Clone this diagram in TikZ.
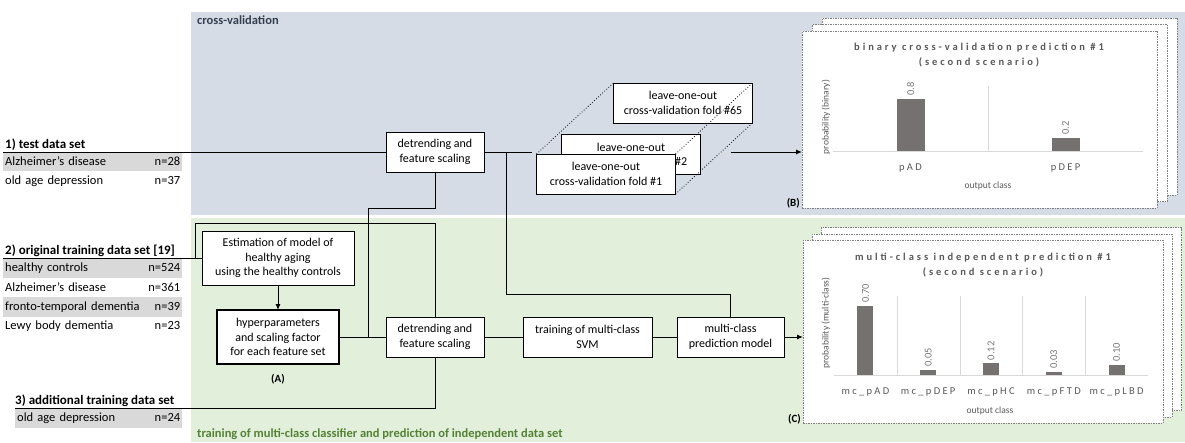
\documentclass[tikz,border=0pt]{standalone}
\usepackage{fontspec}
\setmainfont{Carlito}
\usetikzlibrary{positioning,arrows.meta,backgrounds}
\definecolor{cvblue}{HTML}{D6DCE5}
\definecolor{trgreen}{HTML}{E2EFDA}
\definecolor{cvtext}{HTML}{333F50}
\definecolor{trtext}{HTML}{548235}
\definecolor{rowgray}{HTML}{D9D9D9}
\definecolor{chartgray}{HTML}{595959}
\definecolor{bargray}{HTML}{767171}
\definecolor{gridgray}{HTML}{D9D9D9}
\newcommand{\spacedfont}{\addfontfeature{LetterSpace=28}}
\newcommand{\catfont}{\addfontfeature{LetterSpace=22}}

\begin{document}
\begin{tikzpicture}[x=1pt,y=-1pt,
    box/.style={draw,fill=white,line width=1pt,align=center,inner sep=1pt,outer sep=0pt,font=\fontsize{12}{14.6}\selectfont},
    foldbox/.style={box,minimum width=139pt,minimum height=40pt},
    listhead/.style={anchor=base west,inner sep=0pt,font=\fontsize{13}{15}\selectfont\bfseries},
    listrow/.style={anchor=west,align=left,text width=175pt,inner xsep=2pt,inner ysep=0pt,minimum height=19.5pt,font=\fontsize{12.5}{14}\selectfont},
    panellabel/.style={anchor=west,inner sep=0pt,font=\fontsize{12.5}{14}\selectfont\bfseries},
    chartframe/.style={draw=gray,fill=white,dash pattern=on 1.5pt off 1pt,line width=0.6pt,outer sep=0pt},
    charttitle/.style={align=center,text=chartgray,font=\fontsize{10.5}{15}\selectfont\bfseries\spacedfont},
    catlabel/.style={text=chartgray,font=\fontsize{10.5}{12}\selectfont\catfont},
    vallabel/.style={rotate=90,anchor=west,inner sep=1pt,text=chartgray!80,font=\fontsize{10.5}{12}\selectfont},
    axislabel/.style={text=chartgray,font=\fontsize{9.5}{11}\selectfont},
    gridline/.style={draw=gridgray,line width=0.8pt},
    link/.style={line width=1pt},
    arr/.style={link,-{Latex[length=6pt,width=5pt]}},
    tag/.style={inner sep=0pt,font=\fontsize{11}{12}\selectfont\bfseries}]

\useasboundingbox (0,0) rectangle (1185,442);
\begin{scope}[on background layer]
  \fill[cvblue] (191,12) rectangle (1185,215);
  \fill[trgreen] (191,218) rectangle (1185,442);
\end{scope}
\node[panellabel,text=cvtext] (cvlabel) at (197,20) {cross-validation};
\node[panellabel,text=trtext] (trlabel) at (197,434) {training of multi-class classifier and prediction of independent data set};

% data sets
\node[listhead] (testhead) at (5,148) {1) test data set};
\node[listrow,fill=rowgray] (test1) at (3,161.5) {Alzheimer’s disease\hfill n=28};
\node[listrow] (test2) at (3,181) {old age depression\hfill n=37};
\node[listhead] (trainhead) at (5,254) {2) original training data set [19]};
\node[listrow,fill=rowgray] (train1) at (3,268) {healthy controls\hfill n=524};
\node[listrow] (train2) at (3,287.5) {Alzheimer’s disease\hfill n=361};
\node[listrow,fill=rowgray] (train3) at (3,307) {fronto-temporal dementia\hfill n=39};
\node[listrow] (train4) at (3,326.5) {Lewy body dementia\hfill n=23};
\node[listhead] (addhead) at (15,404) {3) additional training data set};
\node[listrow,fill=rowgray,text width=163pt] (add1) at (15,418.5) {old age depression\hfill n=24};

\coordinate (testin) at (3,152);
\coordinate (trainin) at (3,258);
\coordinate (addin) at (15,408);
\coordinate (trbranch) at (195,258);
\coordinate (hypsplit) at (368,337);
\coordinate (cvsplit) at (506,152);
\coordinate (cvin) at (532,152);
\coordinate (cvout) at (731,152);

% processing steps
\node[box,minimum width=98pt,minimum height=40pt] (dtcv) at (435,152) {detrending and\\feature scaling};
\node[box,minimum width=152pt,minimum height=54pt] (est) at (278,258) {Estimation of model of\\healthy aging\\using the healthy controls};
\node[box,line width=2.5pt,minimum width=122pt,minimum height=54pt] (hyp) at (278,337) {hyperparameters\\and scaling factor\\for each feature set};
\node[tag] (taga) at (278,379) {(A)};
\node[box,minimum width=98pt,minimum height=40pt] (dttr) at (435,337) {detrending and\\feature scaling};
\node[box,minimum width=129pt,minimum height=40pt] (svm) at (587.5,337) {training of multi-class\\SVM};
\node[box,minimum width=107pt,minimum height=40pt] (pred) at (730.5,337) {multi-class\\prediction model};

% folds
\node[foldbox] (f1) at (606,174) {leave-one-out\\cross-validation fold \#1};
\begin{scope}[on background layer]
  \node[foldbox] (f65) at (683,103) {leave-one-out\\cross-validation fold \#65};
  \node[foldbox] (f2) at (631,154.5) {leave-one-out\\cross-validation fold \#2};
  \draw[dotted,line width=0.8pt] (f1.north west) -- (f65.north west) (f1.north east) -- (f65.north east) (f1.south east) -- (f65.south east);
\end{scope}

% chart B
\node[chartframe,minimum width=355pt,minimum height=177pt] (chartB3) at (999.5,106.5) {};
\node[chartframe,minimum width=355pt,minimum height=177pt] (chartB2) at (989.5,113) {};
\node[chartframe,minimum width=355pt,minimum height=177pt] (chartB) at (979.5,119.5) {};
\draw[gridline] (833,151) -- (1143,151) (988,86) -- (988,151);
\foreach \cx/\v/\h/\lab [count=\i] in {910.5/0.8/52/pAD, 1065.5/0.2/13/pDEP} {
  \fill[bargray] (\cx-14,151) rectangle (\cx+14,151-\h);
  \node[vallabel] (vb\i) at (\cx,149-\h) {\v};
  \node[catlabel] (cb\i) at (\cx,168) {\lab};
}
\node[charttitle] (titleB) at (979,55.5) {binary cross-validation prediction \#1\\(second scenario)};
\node[axislabel,rotate=90] (ylabB) at (826,117) {probability (binary)};
\node[axislabel] (xlabB) at (988,186) {output class};
\node[tag,anchor=east] (tagb) at (800,203) {(B)};

% chart C
\node[chartframe,minimum width=360pt,minimum height=183pt] (chartC3) at (1001,319) {};
\node[chartframe,minimum width=360pt,minimum height=183pt] (chartC2) at (992,325.5) {};
\node[chartframe,minimum width=360pt,minimum height=183pt] (chartC) at (983,331.5) {};
\draw[gridline] (834,375) -- (1148,375);
\foreach \x in {897,960,1022,1085} \draw[gridline] (\x,296) -- (\x,375);
\foreach \v/\h/\lab [count=\i from 0] in {0.70/69/mc\_pAD, 0.05/4.9/mc\_pDEP, 0.12/11.8/mc\_pHC, 0.03/3/mc\_pFTD, 0.10/9.9/mc\_pLBD} {
  \pgfmathsetmacro\cx{865.4+62.8*\i}
  \fill[bargray] (\cx-8,375) rectangle (\cx+8,375-\h);
  \node[vallabel] (vc\i) at (\cx,373-\h) {\v};
  \node[catlabel] (cc\i) at (\cx,392) {\lab};
}
\node[charttitle] (titleC) at (983,265.5) {multi-class independent prediction \#1\\(second scenario)};
\node[axislabel,rotate=90] (ylabC) at (826,323) {probability (multi-class)};
\node[axislabel] (xlabC) at (990,411) {output class};
\node[tag,anchor=east] (tagc) at (801,419) {(C)};

% connections
\draw[link] (testin) -- (dtcv);
\draw[link] (trainin) -- (est);
\draw[link] (trbranch) -- ++(0,-35) -| (dttr.north);
\draw[link] (addin) -| (dttr.south);
\draw[arr] (est) -- (hyp);
\draw[link] (hyp) -- (dttr);
\draw[link] (hypsplit) -- ++(0,-129) -| (dtcv.south);
\draw[link] (dtcv) -- (cvin);
\draw[link] (cvsplit) -- ++(0,142) -| (pred.north);
\draw[link] (dttr) -- (svm);
\draw[link] (svm) -- (pred);
\draw[arr] (pred) -- (pred -| chartC.west);
\draw[arr] (cvout) -- (cvout -| chartB.west);
\end{tikzpicture}
\end{document}
